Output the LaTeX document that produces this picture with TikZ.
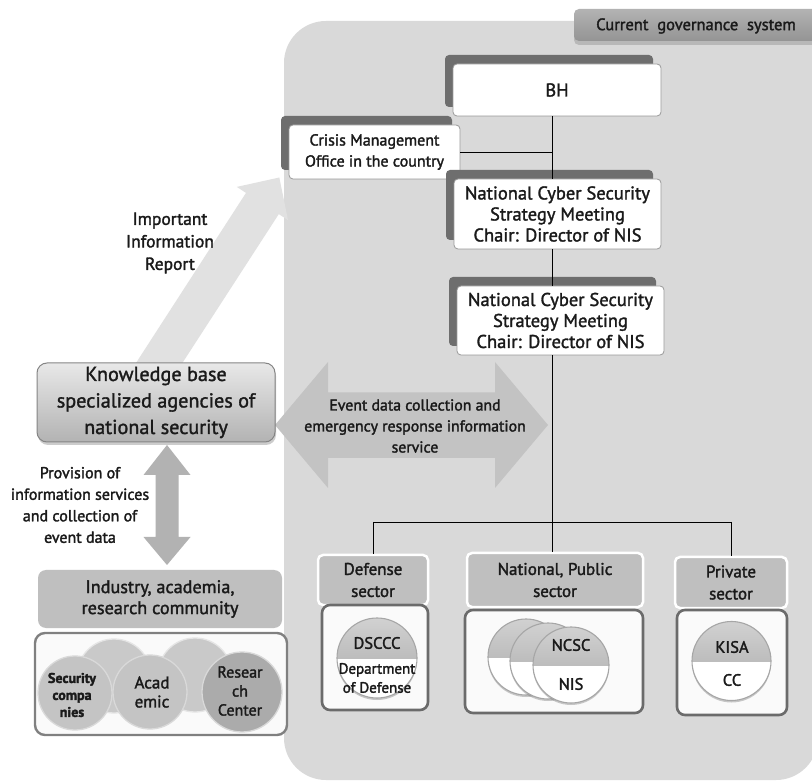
\documentclass[tikz,border=0pt]{standalone}
\usepackage{fontspec}
\setmainfont{PT Sans}
\usetikzlibrary{shadows}

% fill and stroke the glyphs for a slightly heavier text colour
\newcommand\heavyink{\special{pdf:literal direct 2 Tr 0.3 w}}

\definecolor{panel}{HTML}{D9D9D9}
\definecolor{ink}{HTML}{1A1A1A}
\definecolor{shadowgray}{HTML}{6E6E6E}
\definecolor{labelgray}{HTML}{BFBFBF}
\definecolor{arrowlight}{HTML}{E1E1E1}
\definecolor{arrowmid}{HTML}{C3C3C3}
\definecolor{arrowdark}{HTML}{B2B2B2}
\definecolor{rim}{HTML}{A6A6A6}

\tikzset{
  fs/.style 2 args={font=\fontsize{#1}{#2}\selectfont\heavyink},
  txt/.style={text=ink, align=center, inner sep=0pt},
  orgbox/.style={txt, draw=black!40, fill=white, rounded corners=4pt,
    line width=0.8pt,
    general shadow={shadow xshift=-8pt, shadow yshift=9pt, fill=shadowgray}},
  sectorlabel/.style={txt, fill=labelgray, draw=white, line width=2.5pt,
    rounded corners=5pt},
  sectorbody/.style={fill=black!2, draw=black!58, line width=2.6pt,
    rounded corners=8pt},
  halfdisc/.style={circle, inner sep=0pt, minimum size=#1, fill=white,
    draw=rim, line width=1.1pt,
    drop shadow={shadow xshift=0pt, shadow yshift=-2pt, opacity=.35, fill=black!60},
    path picture={\shade[top color=black!18, bottom color=black!34]
      (path picture bounding box.north west) rectangle (path picture bounding box.east);}},
  ball/.style={circle, inner sep=0pt, minimum size=#1, line width=1.3pt},
  link/.style={draw=black, line width=0.7pt},
}

\begin{document}
\begin{tikzpicture}[x=1pt, y=-1pt]
\useasboundingbox (0,0) rectangle (812,783);
\fill[white] (0,0) rectangle (812,783);

% governance panel
\fill[panel, rounded corners=42pt] (284,21) rectangle (818,780);

% tab with title
\fill[black!40, opacity=.5, rounded corners=5pt] (574,13) rectangle (818,45);
\shade[top color=black!30, bottom color=black!42, rounded corners=5pt]
  (574,9) rectangle (818,41);
\node[txt, fs={16.5}{19}] (tab) at (696,26) {Current\ \ governance\ \ system};

% report arrow toward the crisis office
\fill[arrowlight] (123.9,381.7) -- (246,192.9) -- (236.8,186.9) -- (279.3,177.5)
  -- (288,220.1) -- (278.8,214.1) -- (156.6,402.8) -- cycle;

% event data exchange arrow
\fill[arrowmid] (275,425) -- (328,362) -- (328,392.5) -- (495,392.5) -- (495,362)
  -- (548,425) -- (495,488) -- (495,458) -- (328,458) -- (328,488) -- cycle;

% exchange arrow with the community
\fill[arrowdark] (167,445) -- (190.5,475) -- (178.5,475) -- (178.5,537) -- (190.5,537)
  -- (167,565) -- (143.5,537) -- (155.5,537) -- (155.5,475) -- (143.5,475) -- cycle;

% hierarchy boxes
\node[orgbox, fs={18.5}{21}, minimum width=208pt, minimum height=52pt] (bh) at (557,90) {BH};
\node[orgbox, fs={16}{21}, minimum width=171pt, minimum height=54pt] (cmo) at (374.5,152)
  {Crisis Management\\Office in the country};
\node[orgbox, fs={18.5}{21}, minimum width=207pt, minimum height=70pt] (ncs1) at (557.5,214)
  {National Cyber Security\\Strategy Meeting\\Chair: Director of NIS};
\node[orgbox, fs={18.5}{21}, minimum width=207pt, minimum height=69pt] (ncs2) at (560.5,320.5)
  {National Cyber Security\\Strategy Meeting\\Chair: Director of NIS};

% sector labels and bodies
\node[sectorlabel, fs={17}{22}, minimum width=110pt, minimum height=50pt] (def) at (373,580)
  {Defense\\sector};
\node[sectorlabel, fs={17}{22}, minimum width=176pt, minimum height=54pt] (pub) at (555,580)
  {National, Public\\sector};
\node[sectorlabel, fs={17}{22}, minimum width=112pt, minimum height=51pt] (pri) at (731,582.5)
  {Private\\sector};
\node[sectorbody, minimum width=106pt, minimum height=105pt] (defb) at (375,657.5) {};
\node[sectorbody, minimum width=178pt, minimum height=103pt] (pubb) at (554,661.5) {};
\node[sectorbody, minimum width=110pt, minimum height=105pt] (prib) at (732,662.5) {};

% connectors
\coordinate (jbus) at (552,522);
\coordinate (jdef) at (jbus -| def.north);
\coordinate (jpri) at (jbus -| pri.north);
\draw[link] (bh.south -| jbus) -- (ncs1.north -| jbus);
\draw[link] (ncs1.south -| jbus) -- (ncs2.north -| jbus);
\draw[link] (ncs2.south -| jbus) -- (jbus);
\draw[link] (cmo.east) -- (cmo.east -| jbus);
\draw[link] (jdef) -- (jpri);
\draw[link] (jdef) -- (def.north);
\draw[link] (jbus) -- (jbus |- pub.north);
\draw[link] (jpri) -- (pri.north);

% sector discs
\node[halfdisc=80pt] (dsccc) at (377,658) {};
\node[halfdisc=76pt] (n1) at (526,657) {};
\node[halfdisc=76pt] (n2) at (548,661) {};
\node[halfdisc=76pt] (ncsc) at (571,665) {};
\node[halfdisc=79pt] (kisa) at (731.5,661) {};
\node[txt, fs={16.5}{18}] (dscccT) at (377,643) {DSCCC};
\node[txt, fs={15}{19}] (dodT) at (377,678) {Department\\of Defense};
\node[txt, fs={16.5}{18}] (ncscT) at (571,645) {NCSC};
\node[txt, fs={16.5}{18}] (nisT) at (571,684) {NIS};
\node[txt, fs={16.5}{18}] (kisaT) at (732,647) {KISA};
\node[txt, fs={16.5}{18}] (ccT) at (732,680) {CC};

% arrow captions
\node[txt, fs={15.8}{21}] (evt) at (415,426)
  {Event\ data collection\ and\\emergency response information\\service};
\node[txt, fs={17.5}{22.5}] (rep) at (170,243) {Important\\Information\\Report};
\node[txt, fs={16}{21.5}] (prov) at (80,505)
  {Provision\ of\\information\ services\\and collection\ of\\event data};

% knowledge base agencies
\node[txt, fs={20.2}{26.5}, minimum width=238pt, minimum height=79pt, rounded corners=10pt,
  top color=black!9, bottom color=black!30, draw=black!48, line width=1pt,
  drop shadow={shadow xshift=1pt, shadow yshift=-3pt, opacity=.4}]
  (kb) at (156,402.5)
  {Knowledge base\\specialized\ agencies of\\national security};

% community
\node[txt, fs={18.2}{21}, fill=labelgray, rounded corners=8pt, minimum width=244pt,
  minimum height=58pt] (ind) at (160,599) {Industry, academia,\\research community};
\node[fill=black!2, draw=black!50, line width=2.4pt, rounded corners=10pt,
  minimum width=252pt, minimum height=102pt] (comm) at (161,684) {};
\node[ball=74pt, fill=black!21, draw=black!10] (cb1) at (114,676) {};
\node[ball=74pt, fill=black!21, draw=black!10] (cb2) at (195,675) {};
\node[ball=74pt, fill=black!23, draw=white!85!black] (sec) at (75,693) {};
\node[ball=74pt, fill=black!23, draw=white!85!black] (aca) at (150,692) {};
\node[ball=80pt, fill=black!33, draw=black!15] (res) at (242,692) {};
\node[txt, fs={14}{17}] (secT) at (72,695) {\bfseries Security\\\bfseries compa\\\bfseries nies};
\node[txt, fs={17}{19}] (acaT) at (152,692) {Acad\\emic};
\node[txt, fs={16}{19}] (resT) at (240,691) {Resear\\ch\\Center};
\end{tikzpicture}
\end{document}
